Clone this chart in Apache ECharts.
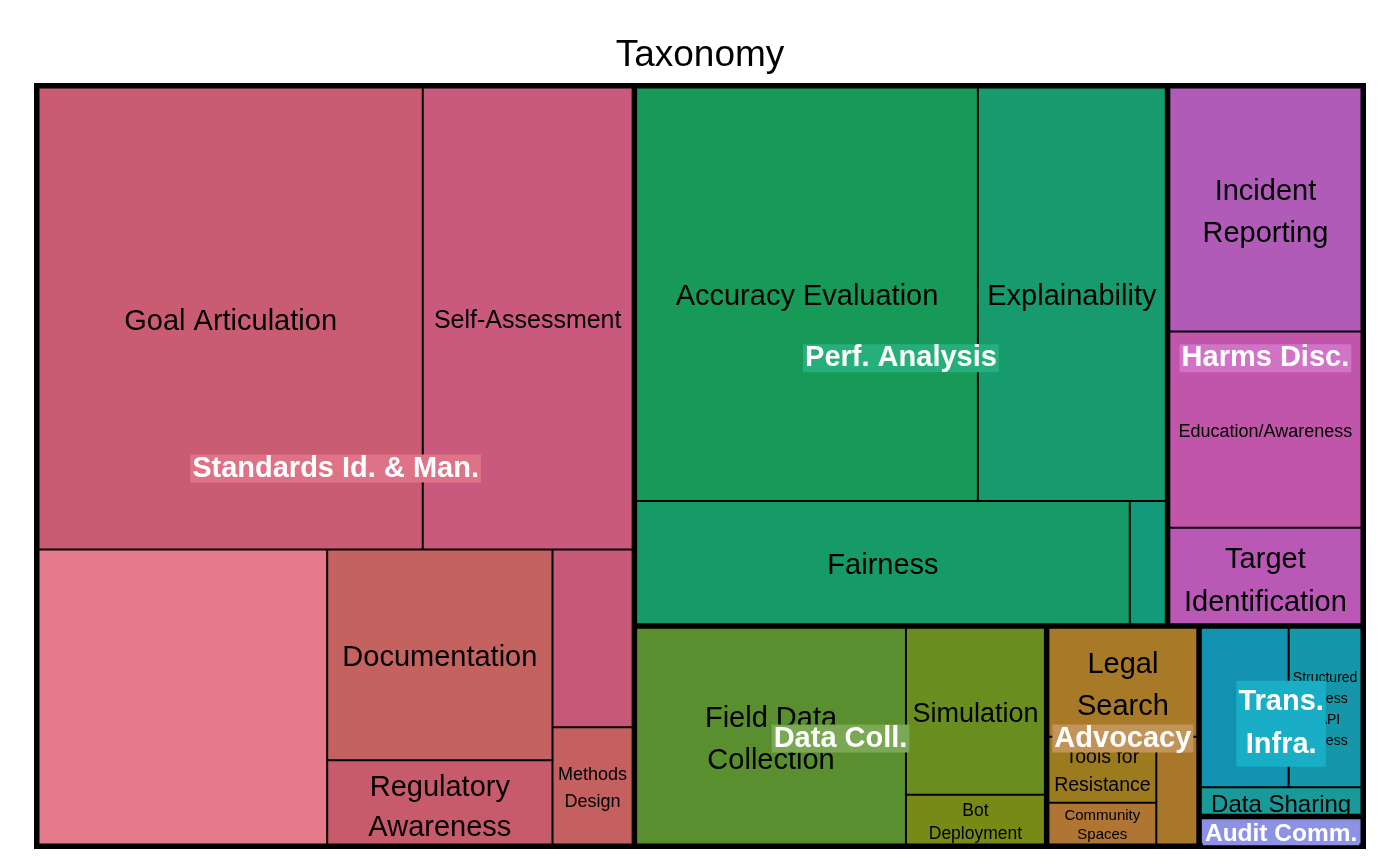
<!DOCTYPE html>
<html>
<head>
<meta charset="utf-8">
<script src="https://cdn.jsdelivr.net/npm/echarts@6/dist/echarts.min.js"></script>
<style>
html,body{margin:0;padding:0;background:#fff;}
#chart{width:1400px;height:865px;}
</style>
</head>
<body>
<div id="chart"></div>
<script>
// ---------- DATA ----------
const groupNames = ['Standards Id. & Man.', 'Perf. Analysis', 'Harms Disc.', 'Data Coll.', 'Advocacy', 'Trans. Infra.', 'Audit Comm.'];

const standardsLeaves = ['Goal Articulation', 'Self-Assessment', 'Standards (unlabeled 1)', 'Documentation', 'Regulatory Awareness', 'Standards (unlabeled 2)', 'Methods Design'];
const standardsValues = [179.6, 98.1, 86.1, 48.0, 19.2, 14.4, 9.5];

const perfLeaves = ['Accuracy Evaluation', 'Explainability', 'Fairness', 'Perf. Analysis (unlabeled)'];
const perfValues = [143.3, 78.8, 61.7, 4.5];

const harmsLeaves = ['Incident Reporting', 'Education/Awareness', 'Target Identification'];
const harmsValues = [48.1, 38.7, 19.0];

const dataCollLeaves = ['Field Data Collection', 'Simulation', 'Bot Deployment'];
const dataCollValues = [60.0, 23.8, 7.1];

const advocacyLeaves = ['Legal Search', 'Tools for Resistance', 'Community Spaces', 'Advocacy (unlabeled)'];
const advocacyValues = [16.9, 7.4, 4.7, 4.6];

const transLeaves = ['Trans. Infra. (unlabeled)', 'Structured Access / API Access', 'Data Sharing'];
const transValues = [14.6, 12.1, 4.6];

const auditLeaves = ['Audit Comm. (unlabeled)'];
const auditValues = [4.9];

// ---------- STYLE ----------
const FONT = 'Liberation Sans';

const leafColors = {
  'Goal Articulation': '#C95C72',
  'Self-Assessment': '#C95A7D',
  'Standards (unlabeled 1)': '#E57A8C',
  'Documentation': '#C46260',
  'Regulatory Awareness': '#C85B6B',
  'Standards (unlabeled 2)': '#C65878',
  'Methods Design': '#C46160',
  'Accuracy Evaluation': '#179A58',
  'Explainability': '#169A6E',
  'Fairness': '#169B66',
  'Perf. Analysis (unlabeled)': '#129A7B',
  'Incident Reporting': '#B15BB9',
  'Education/Awareness': '#C155A9',
  'Target Identification': '#B958B5',
  'Field Data Collection': '#5A8F2F',
  'Simulation': '#6A8D20',
  'Bot Deployment': '#778A16',
  'Legal Search': '#A87A28',
  'Tools for Resistance': '#9C7B1F',
  'Community Spaces': '#B07433',
  'Advocacy (unlabeled)': '#A8772A',
  'Trans. Infra. (unlabeled)': '#1391B1',
  'Structured Access / API Access': '#1697A9',
  'Data Sharing': '#1A9999',
  'Audit Comm. (unlabeled)': '#8A8EE0'
};

// [fontSize, lineHeight, verticalNudge]; leaves not listed show no label
const leafLabelStyle = {
  'Goal Articulation': [29, 34, 3],
  'Self-Assessment': [25, 30, 3],
  'Documentation': [29, 34, 3],
  'Regulatory Awareness': [29, 40, 6],
  'Methods Design': [18, 27, 3],
  'Accuracy Evaluation': [29, 34, 3],
  'Explainability': [29, 34, 3],
  'Fairness': [29, 34, 3],
  'Incident Reporting': [29, 42, 3],
  'Education/Awareness': [18, 22, 2],
  'Target Identification': [29, 43, 5],
  'Field Data Collection': [29, 42, 4],
  'Simulation': [27, 32, 3],
  'Bot Deployment': [17.5, 23, 3],
  'Legal Search': [29, 42, 4],
  'Tools for Resistance': [19.5, 28, 2],
  'Community Spaces': [15, 19, 2],
  'Structured Access / API Access': [14, 21, 2],
  'Data Sharing': [24, 24, 4]
};

const leafLabelBreaks = {
  'Regulatory Awareness': 'Regulatory\nAwareness',
  'Methods Design': 'Methods\nDesign',
  'Incident Reporting': 'Incident\nReporting',
  'Target Identification': 'Target\nIdentification',
  'Field Data Collection': 'Field Data\nCollection',
  'Bot Deployment': 'Bot\nDeployment',
  'Legal Search': 'Legal\nSearch',
  'Tools for Resistance': 'Tools for\nResistance',
  'Community Spaces': 'Community\nSpaces',
  'Structured Access / API Access': 'Structured\nAccess\n/ API\nAccess'
};

const groupLabelBg = {
  'Standards Id. & Man.': '#DE7286',
  'Perf. Analysis': '#27AF7B',
  'Harms Disc.': '#D173C7',
  'Data Coll.': '#7BA854',
  'Advocacy': '#C39459',
  'Trans. Infra.': '#1AAEC6',
  'Audit Comm.': '#8C92E4'
};
const groupLabelBreaks = { 'Trans. Infra.': 'Trans.\nInfra.' };
// [fontSize, lineHeight]
const groupLabelSize = { 'Audit Comm.': [24.5, 23], 'Trans. Infra.': [29, 43] };
const GROUP_FONT = [29, 28];
const GROUP_NUDGE = 2.5;

const BOX = { left: 34, top: 83, width: 1332, height: 766 };

// ---------- BUILD ----------
const groupChildren = [
  [standardsLeaves, standardsValues],
  [perfLeaves, perfValues],
  [harmsLeaves, harmsValues],
  [dataCollLeaves, dataCollValues],
  [advocacyLeaves, advocacyValues],
  [transLeaves, transValues],
  [auditLeaves, auditValues]
];

function buildLeaves(names, values) {
  return names.map(function (n, i) {
    const st = leafLabelStyle[n];
    return {
      name: n,
      value: values[i],
      itemStyle: { color: leafColors[n] },
      label: st ? { show: true, fontSize: st[0], lineHeight: st[1], offset: [0, st[2]] } : { show: false }
    };
  });
}

const treeData = groupNames.map(function (g, i) {
  return { name: g, children: buildLeaves(groupChildren[i][0], groupChildren[i][1]) };
});

const chart = echarts.init(document.getElementById('chart'), null, { renderer: 'canvas' });

const option = {
  animation: false,
  backgroundColor: '#ffffff',
  title: {
    text: 'Taxonomy',
    left: 'center',
    top: 36,
    padding: 0,
    textStyle: { fontFamily: FONT, fontSize: 37, fontWeight: 'normal', color: '#000000', lineHeight: 40 }
  },
  tooltip: { show: false },
  series: [{
    type: 'treemap',
    left: BOX.left,
    top: BOX.top,
    width: BOX.width,
    height: BOX.height,
    squareRatio: 1.3,
    sort: 'desc',
    roam: false,
    nodeClick: false,
    silent: true,
    breadcrumb: { show: false },
    visibleMin: 0,
    label: {
      show: true,
      position: 'inside',
      align: 'center',
      verticalAlign: 'middle',
      color: '#000000',
      fontFamily: FONT,
      padding: 0,
      overflow: 'none',
      formatter: function (p) { return leafLabelBreaks[p.name] || p.name; }
    },
    upperLabel: { show: false },
    levels: [
      { itemStyle: { borderColor: '#000000', borderWidth: 5.5, gapWidth: 5.5 } },
      { itemStyle: { borderColor: '#000000', borderWidth: 0, gapWidth: 2 } },
      { itemStyle: { borderColor: '#000000', borderWidth: 0, gapWidth: 0 } }
    ],
    data: treeData
  }]
};

chart.setOption(option);

// Group labels placed at the centre of each group rectangle, as laid out by the treemap itself
try {
  const sm = chart.getModel().getSeriesByIndex(0);
  const tree = sm.getData().tree;
  const info = sm.layoutInfo || { x: BOX.left, y: BOX.top };
  const rootL = tree.root.getLayout() || { x: 0, y: 0 };
  const gfx = tree.root.children.map(function (node) {
    const l = node.getLayout();
    const cx = info.x + (rootL.x || 0) + l.x + l.width / 2;
    const cy = info.y + (rootL.y || 0) + l.y + l.height / 2 + GROUP_NUDGE;
    const nm = node.name;
    const sz = groupLabelSize[nm] || GROUP_FONT;
    return {
      type: 'text',
      x: cx,
      y: cy,
      z: 100,
      silent: true,
      style: {
        text: groupLabelBreaks[nm] || nm,
        fill: '#ffffff',
        font: 'bold ' + sz[0] + 'px "' + FONT + '"',
        align: 'center',
        verticalAlign: 'middle',
        textAlign: 'center',
        textVerticalAlign: 'middle',
        lineHeight: sz[1],
        backgroundColor: groupLabelBg[nm],
        padding: [0, 2]
      }
    };
  });
  chart.setOption({ graphic: gfx });
} catch (e) {
  console.error(e);
}
</script>
</body>
</html>
